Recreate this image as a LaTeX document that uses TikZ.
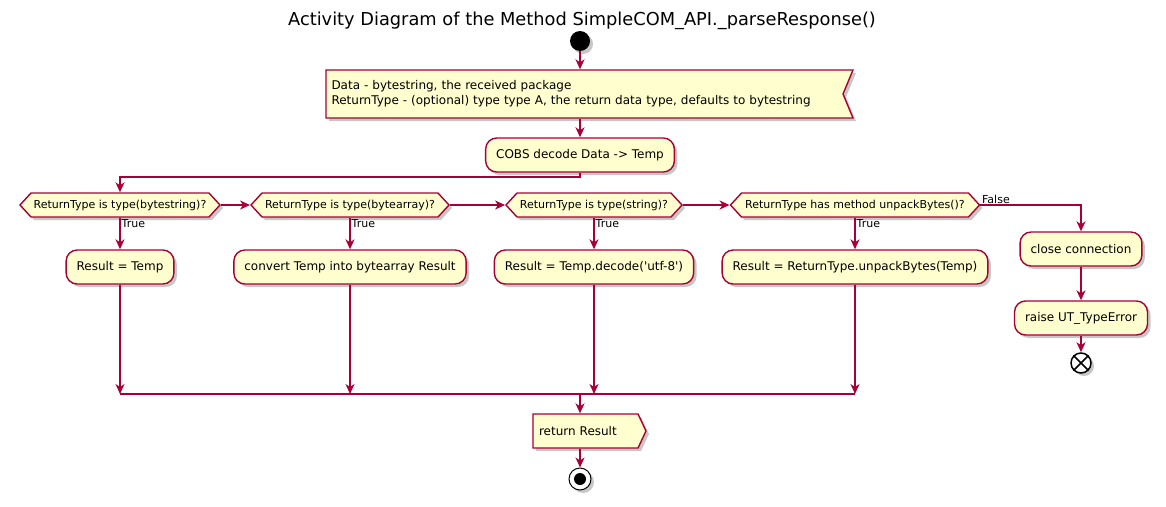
\documentclass[tikz,border=0pt]{standalone}
\usepackage{fontspec}
\setmainfont{DejaVu Sans}
\newfontfamily\dvplain{DejaVu Sans}
\usetikzlibrary{shapes.symbols,shapes.misc,shadows,arrows.meta,calc}
\definecolor{puline}{HTML}{A80036}
\definecolor{pufill}{HTML}{FEFECE}
\tikzset{
  shadowed/.style={drop shadow={shadow xshift=3pt,shadow yshift=-3pt,fill=black,opacity=0.22}},
  box/.style={draw=puline,fill=pufill,line width=1.4pt,shadowed,font=\dvplain\fontsize{12}{15}\selectfont},
  action/.style={box,rectangle,rounded corners=11pt,inner xsep=10.5pt,inner ysep=0pt,minimum height=34pt},
  decision/.style={box,signal,signal to=west and east,signal pointer angle=95,minimum height=24pt,inner sep=0pt,font=\dvplain\fontsize{11}{13}\selectfont},
  flow/.style={draw=puline,line width=1.4pt,-{Stealth[length=10pt,width=9pt,inset=3pt]}},
  wire/.style={draw=puline,line width=1.4pt},
  lbl/.style={font=\dvplain\fontsize{11}{13}\selectfont,inner sep=1pt},
}
\begin{document}
\begin{tikzpicture}[x=1pt,y=-1pt]
\useasboundingbox (0,0) rectangle (1166,506);
\node[font=\dvplain\fontsize{17.8}{21}\selectfont] (title) at (582,21) {Activity Diagram of the Method SimpleCOM\_API.\_parseResponse()};
\node[circle,fill=black,minimum size=20pt,inner sep=0pt,shadowed] (start) at (580,41) {};
\node[box,signal,signal to=nowhere,signal from=east,signal pointer angle=135,minimum width=527pt,minimum height=48pt,text width=506pt,align=left,inner sep=0pt] (note) at (584.5,94) {Data - bytestring, the received package\\ReturnType - (optional) type type A, the return data type, defaults to bytestring};
\node[action] (cobs) at (580,155) {COBS decode Data -> Temp};
\node[decision,minimum width=200pt] (d1) at (120,205) {ReturnType is type(bytestring)?};
\node[decision,minimum width=198pt] (d2) at (350,205) {ReturnType is type(bytearray)?};
\node[decision,minimum width=176pt] (d3) at (594,205) {ReturnType is type(string)?};
\node[decision,minimum width=249pt] (d4) at (855,205) {ReturnType has method unpackBytes()?};
\node[action] (a1) at (120,267) {Result = Temp};
\node[action] (a2) at (350,267) {convert Temp into bytearray Result};
\node[action] (a3) at (594,267) {Result = Temp.decode('utf-8')};
\node[action] (a4) at (855,267) {Result = ReturnType.unpackBytes(Temp)};
\node[action] (close) at (1081,249) {close connection};
\node[action] (raise) at (1081,318) {raise UT\_TypeError};
\node[circle,draw=black,fill=white,line width=1.5pt,minimum size=20pt,inner sep=0pt,shadowed] (endx) at (1081,363) {};
\draw[black,line width=1.5pt] (endx.north west) -- (endx.south east) (endx.north east) -- (endx.south west);
\node[box,signal,signal to=east,signal pointer angle=130,minimum width=113pt,minimum height=34pt,inner sep=0pt,text width=93pt,align=left] (ret) at (585.5,431) {return Result};
\node[circle,draw=black,fill=white,line width=1pt,minimum size=22pt,inner sep=0pt,shadowed] (stop) at (580,479) {};
\fill[black] (stop.center) circle (6);
\coordinate (j1) at (580,177);
\coordinate (barL) at (120,394);
\coordinate (barR) at (855,394);
\coordinate (merge) at (580,394);
% connectors
\draw[flow] (start) -- (start |- note.north);
\draw[flow] (cobs |- note.south) -- (cobs);
\draw[flow] (cobs.south) -- (j1) -| (d1.north);
\draw[flow] (d1.east) -- (d2.west);
\draw[flow] (d2.east) -- (d3.west);
\draw[flow] (d3.east) -- (d4.west);
\draw[flow] (d4.east) -| node[pos=0,lbl,anchor=south west] {False} (close.north);
\draw[flow] (d1.south) -- node[pos=0,lbl,anchor=north west] {True} (a1.north);
\draw[flow] (d2.south) -- node[pos=0,lbl,anchor=north west] {True} (a2.north);
\draw[flow] (d3.south) -- node[pos=0,lbl,anchor=north west] {True} (a3.north);
\draw[flow] (d4.south) -- node[pos=0,lbl,anchor=north west] {True} (a4.north);
\draw[flow] (close) -- (raise);
\draw[flow] (raise) -- (endx);
\draw[flow] (a1.south) -- (a1.south |- barL);
\draw[flow] (a2.south) -- (a2.south |- barL);
\draw[flow] (a3.south) -- (a3.south |- barL);
\draw[flow] (a4.south) -- (a4.south |- barL);
\draw[wire] (barL) -- (barR);
\draw[flow] (merge) -- (merge |- ret.north);
\draw[flow] (stop |- ret.south) -- (stop);
\end{tikzpicture}
\end{document}
